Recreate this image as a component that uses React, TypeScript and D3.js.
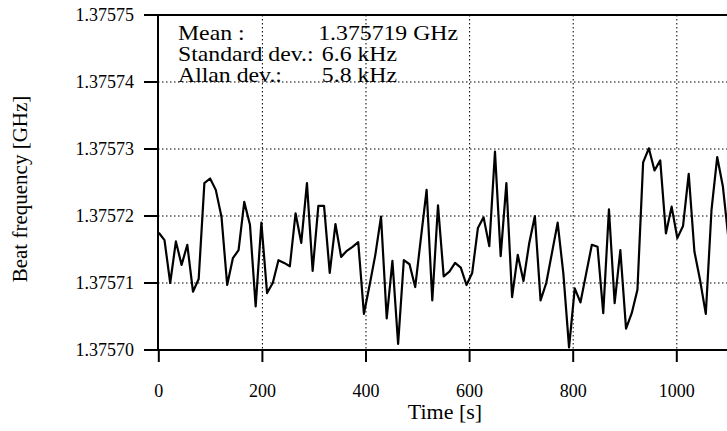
import React from "react";
import * as d3 from "d3";

// ---- Data ----
const TIME_S = [
  0, 11, 22, 33, 44, 55, 66, 77, 88, 99,
  110, 121, 132, 143, 154, 165, 176, 187, 198, 209,
  220, 231, 242, 253, 264, 275, 286, 297, 308, 319,
  330, 341, 352, 363, 374, 385, 396, 407, 418, 429,
  440, 451, 462, 473, 484, 495, 506, 517, 528, 539,
  550, 561, 572, 583, 594, 605, 616, 627, 638, 649,
  660, 671, 682, 693, 704, 715, 726, 737, 748, 759,
  770, 781, 792, 803, 814, 825, 836, 847, 858, 869,
  880, 891, 902, 913, 924, 935, 946, 957, 968, 979,
  990, 1001, 1012, 1023, 1034, 1045, 1056, 1067, 1078, 1089,
  1100,
];

const BEAT_GHZ = [
  1.3757175, 1.3757164, 1.37571, 1.3757162, 1.3757127, 1.3757157, 1.3757087, 1.3757106, 1.3757249, 1.3757256,
  1.3757239, 1.3757199, 1.3757097, 1.3757137, 1.3757149, 1.3757221, 1.3757187, 1.3757065, 1.375719, 1.3757085,
  1.37571, 1.3757134, 1.375713, 1.3757125, 1.3757204, 1.375716, 1.3757249, 1.3757118, 1.3757215, 1.3757215,
  1.3757115, 1.3757188, 1.3757139, 1.3757148, 1.3757154, 1.3757161, 1.3757054, 1.3757097, 1.3757142, 1.3757199,
  1.3757047, 1.3757133, 1.3757009, 1.3757134, 1.3757128, 1.3757094, 1.3757167, 1.3757239, 1.3757074, 1.3757216,
  1.375711, 1.3757117, 1.375713, 1.3757123, 1.3757097, 1.3757115, 1.3757182, 1.3757198, 1.3757155, 1.3757296,
  1.375714, 1.3757249, 1.3757079, 1.3757142, 1.3757103, 1.3757159, 1.37572, 1.3757074, 1.37571, 1.3757145,
  1.375719, 1.3757114, 1.3757004, 1.3757092, 1.3757071, 1.3757114, 1.3757157, 1.3757154, 1.3757055, 1.375721,
  1.375707, 1.3757149, 1.3757032, 1.3757055, 1.375709, 1.375728, 1.3757301, 1.3757268, 1.3757283, 1.3757174,
  1.3757214, 1.3757167, 1.3757185, 1.3757263, 1.3757147, 1.3757104, 1.3757054, 1.3757209, 1.3757288, 1.3757244,
  1.3757164,
];

const X_TICKS = [0, 200, 400, 600, 800, 1000];
const Y_TICKS = [1.3757, 1.37571, 1.37572, 1.37573, 1.37574, 1.37575];
const Y_TICK_LABELS = ["1.37570", "1.37571", "1.37572", "1.37573", "1.37574", "1.37575"];

const X_TITLE = "Time [s]";
const Y_TITLE = "Beat frequency [GHz]";
const STATS_LABELS = ["Mean :", "Standard dev.:", "Allan dev.:"];
const STATS_VALUES = ["1.375719 GHz", "6.6 kHz", "5.8 kHz"];

// ---- Layout ----
const W = 727;
const H = 431;
const LEFT = 158;
const TOP = 15;
const BOTTOM = 350;
const X_MAX_DOMAIN = 1200;
const X_RIGHT = 158.8 + 6 * 103.6;

const FONT = "'Liberation Serif', 'Times New Roman', serif";

// annotation row placement: [label x, value right edge, baseline]
const STAT_ROWS = [
  { lx: 178, vx: 458, by: 40 },
  { lx: 178, vx: 397, by: 61 },
  { lx: 178, vx: 397, by: 82 },
];

export default function App() {
  const x = d3.scaleLinear().domain([0, X_MAX_DOMAIN]).range([158.8, X_RIGHT]);
  const y = d3.scaleLinear().domain([1.3757, 1.37575]).range([BOTTOM, TOP]);

  const line = d3
    .line<number>()
    .x((_, i) => x(TIME_S[i]))
    .y((d) => y(d));

  const pathD = line(BEAT_GHZ) || "";
  const SX = 1.08;

  return (
    <svg
      width={W}
      height={H}
      viewBox={`0 0 ${W} ${H}`}
      style={{ position: "absolute", left: 0, top: 0, background: "#fff", overflow: "hidden" }}
      fontFamily={FONT}
    >
      <rect x={0} y={0} width={W} height={H} fill="#fff" />

      {/* vertical grid */}
      {X_TICKS.filter((t) => t > 0).map((t) => (
        <line
          key={"vg" + t}
          x1={x(t)}
          x2={x(t)}
          y1={TOP}
          y2={BOTTOM}
          stroke="#000"
          strokeWidth={1}
          strokeDasharray="1.5,2.5"
        />
      ))}
      {/* horizontal grid */}
      {Y_TICKS.filter((v, i) => i > 0 && i < Y_TICKS.length - 1).map((v) => (
        <line
          key={"hg" + v}
          x1={LEFT}
          x2={W}
          y1={y(v)}
          y2={y(v)}
          stroke="#000"
          strokeWidth={1}
          strokeDasharray="1.5,2.5"
        />
      ))}

      {/* data line */}
      <path d={pathD} fill="none" stroke="#000" strokeWidth={2.2} strokeLinejoin="round" />

      {/* frame / axes */}
      <line x1={LEFT} x2={W} y1={TOP} y2={TOP} stroke="#000" strokeWidth={2} />
      <line x1={LEFT} x2={W} y1={BOTTOM} y2={BOTTOM} stroke="#000" strokeWidth={2} />
      <line x1={LEFT} x2={LEFT} y1={TOP - 1} y2={BOTTOM + 1} stroke="#000" strokeWidth={2} />

      {/* x ticks */}
      {X_TICKS.map((t) => (
        <g key={"xt" + t}>
          <line x1={x(t)} x2={x(t)} y1={BOTTOM} y2={BOTTOM + 12} stroke="#000" strokeWidth={2} />
          <text x={x(t)} y={397} textAnchor="middle" fontSize={18} fill="#000">
            {String(t)}
          </text>
        </g>
      ))}

      {/* y ticks */}
      {Y_TICKS.map((v, i) => (
        <g key={"yt" + v}>
          <line x1={LEFT - 14} x2={LEFT} y1={y(v)} y2={y(v)} stroke="#000" strokeWidth={2} />
          <text x={134} y={y(v) + 6} textAnchor="end" fontSize={18} fill="#000">
            {Y_TICK_LABELS[i]}
          </text>
        </g>
      ))}

      {/* axis titles */}
      <text x={445} y={419} textAnchor="middle" fontSize={22} fill="#000">
        {X_TITLE}
      </text>
      <text
        transform="translate(27,189) rotate(-90)"
        textAnchor="middle"
        fontSize={21}
        fill="#000"
      >
        {Y_TITLE}
      </text>

      {/* statistics annotation */}
      {STAT_ROWS.map((r, i) => (
        <g key={"st" + i}>
          <text transform={`translate(${r.lx},${r.by}) scale(${SX},1)`} fontSize={22} fill="#000">
            {STATS_LABELS[i]}
          </text>
          <text
            transform={`translate(${r.vx},${r.by}) scale(${SX},1)`}
            textAnchor="end"
            fontSize={22}
            fill="#000"
          >
            {STATS_VALUES[i]}
          </text>
        </g>
      ))}
    </svg>
  );
}
